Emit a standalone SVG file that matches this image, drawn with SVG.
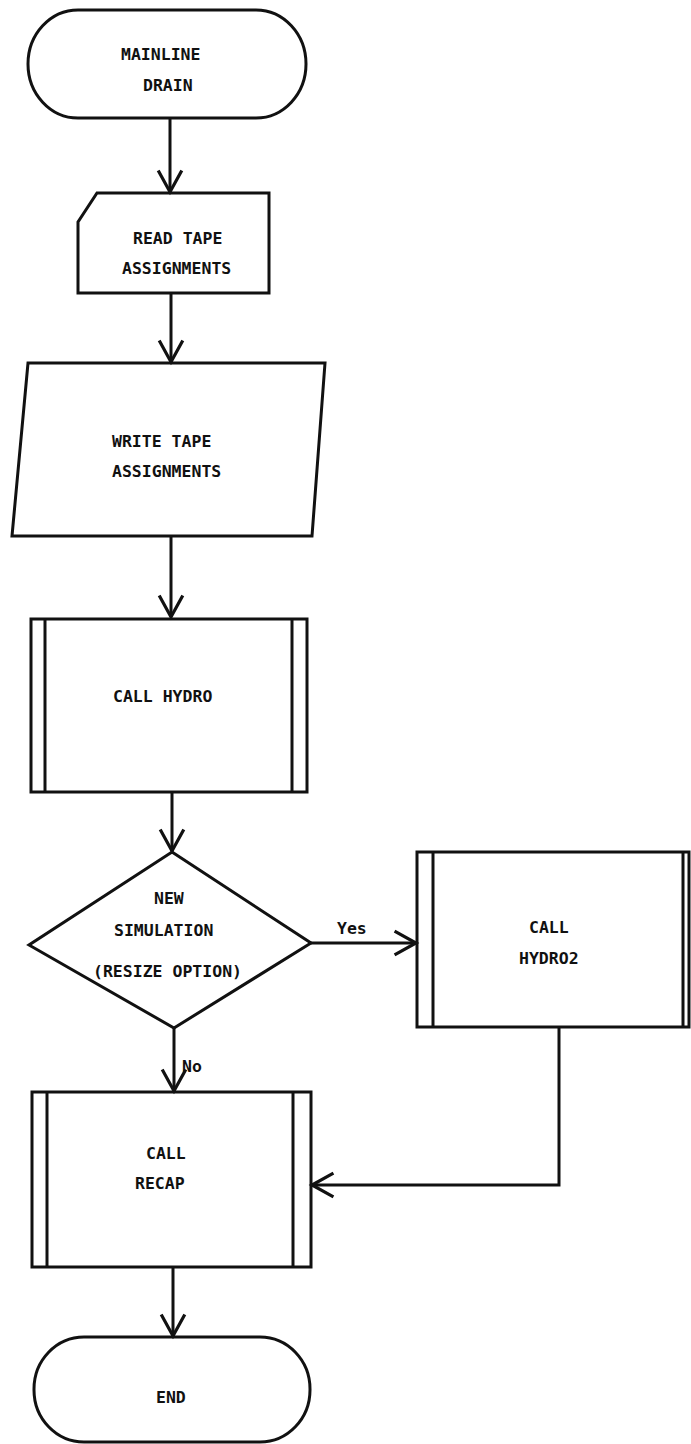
<svg xmlns="http://www.w3.org/2000/svg" width="691" height="1444" viewBox="0 0 691 1444">
  <style>
    .shape { fill: none; stroke: #111; stroke-width: 3; stroke-linejoin: miter; }
    .wire { fill: none; stroke: #111; stroke-width: 3; }
    .label { font-family: "DejaVu Sans Mono", "Liberation Mono", monospace; font-size: 16.5px; font-weight: bold; fill: #111; }
  </style>
  <defs>
    <marker id="arrow" markerUnits="userSpaceOnUse" markerWidth="30" markerHeight="30" viewBox="-24 -14 28 28" refX="0" refY="0" orient="auto">
      <path d="M-20,-11 L0,0 L-20,11" fill="none" stroke="#111" stroke-width="3"/>
    </marker>
  </defs>
  <rect width="691" height="1444" fill="#fff"/>

  <!-- connectors -->
  <g id="connectors">
    <line class="wire" x1="170" y1="118" x2="170" y2="192" marker-end="url(#arrow)"/>
    <line class="wire" x1="171" y1="293" x2="171" y2="362" marker-end="url(#arrow)"/>
    <line class="wire" x1="171" y1="536" x2="171" y2="617" marker-end="url(#arrow)"/>
    <line class="wire" x1="172" y1="792" x2="172" y2="851" marker-end="url(#arrow)"/>
    <line class="wire" x1="311" y1="943" x2="416" y2="943" marker-end="url(#arrow)"/>
    <text class="label" x="337" y="934">Yes</text>
    <line class="wire" x1="174" y1="1028" x2="174" y2="1091" marker-end="url(#arrow)"/>
    <text class="label" x="182" y="1072">No</text>
    <polyline class="wire" points="559,1027 559,1185 312,1185" marker-end="url(#arrow)"/>
    <line class="wire" x1="173" y1="1267" x2="173" y2="1336" marker-end="url(#arrow)"/>
  </g>

  <!-- start terminal -->
  <g id="start">
    <rect class="shape" x="28" y="10" width="278" height="108" rx="50" ry="54"/>
    <text class="label" x="121" y="60">MAINLINE</text>
    <text class="label" x="143" y="91">DRAIN</text>
  </g>

  <!-- punched-card input -->
  <g id="read-tape">
    <path class="shape" d="M97,193 L269,193 L269,293 L78,293 L78,222 Z"/>
    <text class="label" x="133" y="244">READ TAPE</text>
    <text class="label" x="122" y="274">ASSIGNMENTS</text>
  </g>

  <!-- output parallelogram -->
  <g id="write-tape">
    <path class="shape" d="M28,363 L325,363 L312,536 L12,536 Z"/>
    <text class="label" x="112" y="447">WRITE TAPE</text>
    <text class="label" x="112" y="477">ASSIGNMENTS</text>
  </g>

  <!-- predefined process: HYDRO -->
  <g id="call-hydro">
    <rect class="shape" x="31" y="619" width="276" height="173"/>
    <line class="shape" x1="45" y1="619" x2="45" y2="792"/>
    <line class="shape" x1="292" y1="619" x2="292" y2="792"/>
    <text class="label" x="113" y="702">CALL HYDRO</text>
  </g>

  <!-- decision -->
  <g id="new-simulation">
    <path class="shape" d="M172,852 L311,943 L174,1028 L29,945 Z"/>
    <text class="label" x="154" y="904">NEW</text>
    <text class="label" x="114" y="936">SIMULATION</text>
    <text class="label" x="93" y="977">(RESIZE OPTION)</text>
  </g>

  <!-- predefined process: HYDRO2 -->
  <g id="call-hydro2">
    <rect class="shape" x="417" y="852" width="272" height="175"/>
    <line class="shape" x1="433" y1="852" x2="433" y2="1027"/>
    <line class="shape" x1="683" y1="852" x2="683" y2="1027"/>
    <text class="label" x="529" y="933">CALL</text>
    <text class="label" x="519" y="964">HYDRO2</text>
  </g>

  <!-- predefined process: RECAP -->
  <g id="call-recap">
    <rect class="shape" x="32" y="1092" width="279" height="175"/>
    <line class="shape" x1="47" y1="1092" x2="47" y2="1267"/>
    <line class="shape" x1="293" y1="1092" x2="293" y2="1267"/>
    <text class="label" x="146" y="1159">CALL</text>
    <text class="label" x="135" y="1189">RECAP</text>
  </g>

  <!-- end terminal -->
  <g id="end">
    <rect class="shape" x="34" y="1337" width="276" height="105" rx="50" ry="52"/>
    <text class="label" x="156" y="1403">END</text>
  </g>
</svg>
